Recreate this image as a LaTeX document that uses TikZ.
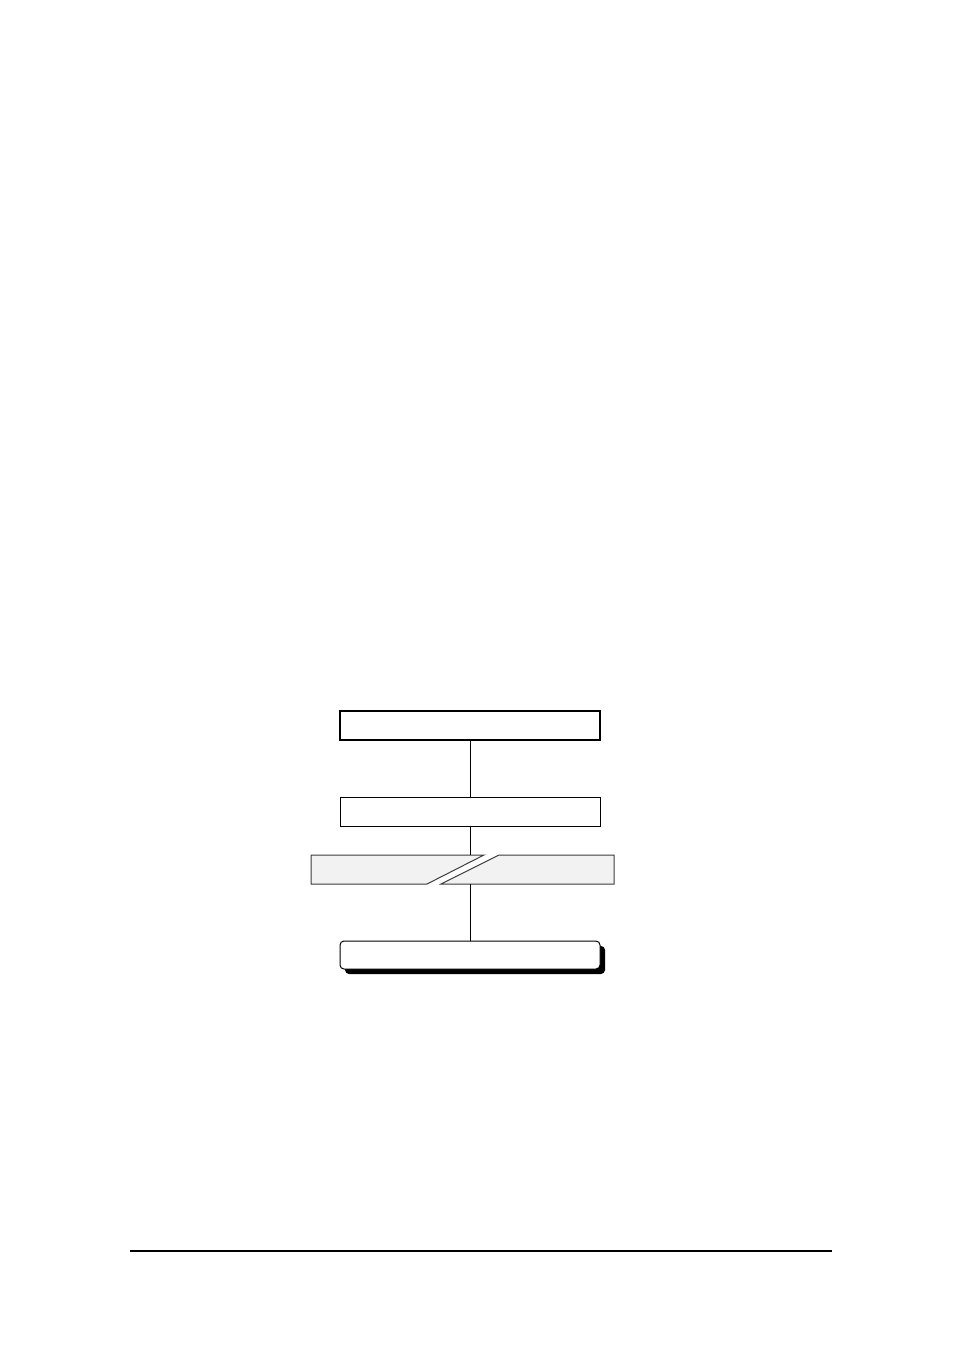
\documentclass[tikz,border=0pt]{standalone}
\usepackage{xcolor}
\usepackage{tikz}
\usetikzlibrary{shadows}
\definecolor{breakgray}{RGB}{242,242,242}
\definecolor{edgegray}{RGB}{60,60,60}

\begin{document}
\begin{tikzpicture}[x=1pt,y=-1pt,
    plainbox/.style={draw, minimum width=260pt, minimum height=29pt, inner sep=0pt},
    endbox/.style={draw, line width=1pt, rounded corners=4pt, fill=white, minimum width=260pt, minimum height=28pt, inner sep=0pt,
        drop shadow={shadow xshift=5pt, shadow yshift=-5pt, fill=black, opacity=1}},
    piece/.style={draw=edgegray, fill=breakgray, line width=1pt},
    link/.style={line width=1pt}]
    \useasboundingbox (0,0) rectangle (954,1351);
    % Boxes
    \node[plainbox, line width=1.3pt] (first) at (470,725.5) {};
    \node[plainbox, line width=0.9pt] (second) at (470,812) {};
    \node[endbox] (last) at (470,955) {};
    % Broken bar
    \filldraw[piece] (311,855) -- (484,855) -- (427,884) -- (311,884) -- cycle;
    \filldraw[piece] (499,855) -- (614,855) -- (614,884) -- (441,884) -- cycle;
    \coordinate (breaktop) at (470,855);
    \coordinate (breakbot) at (470,884);
    % Links
    \draw[link] (first.south) -- (second.north);
    \draw[link] (second.south) -- (breaktop);
    \draw[link] (breakbot) -- (last.north);
    % Footer rule
    \coordinate (ruleleft) at (130,1251);
    \coordinate (ruleright) at (832,1251);
    \draw[line width=2pt] (ruleleft) -- (ruleright);
\end{tikzpicture}
\end{document}
